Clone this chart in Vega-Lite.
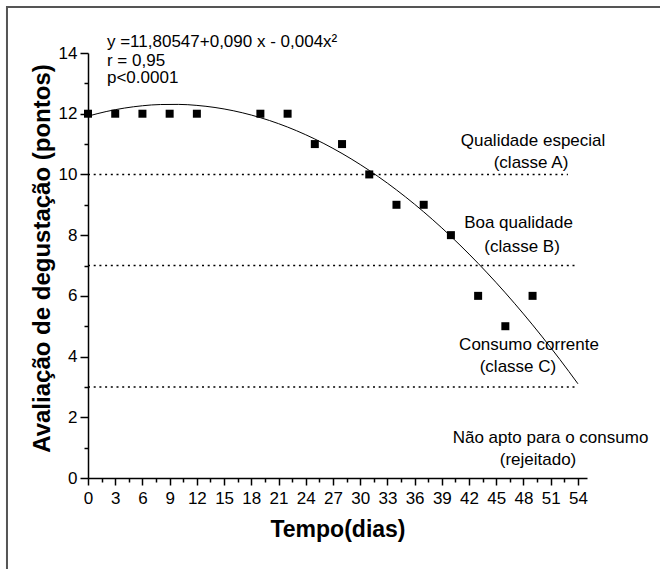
{
  "$schema": "https://vega.github.io/schema/vega-lite/v6.json",
  "width": 499,
  "height": 425,
  "autosize": {"type": "none"},
  "padding": {"left": 88, "top": 53, "right": 73, "bottom": 91},
  "background": "white",
  "config": {"view": {"stroke": null}, "font": "Liberation Sans", "axis": {"grid": false}},
  "datasets": {
    "frame": [{"x0": -8.93, "x1": 80, "y0": 15.515, "y1": -10}],
    "points": [
      {"dias": 0, "pontos": 12}, {"dias": 3, "pontos": 12}, {"dias": 6, "pontos": 12},
      {"dias": 9, "pontos": 12}, {"dias": 12, "pontos": 12}, {"dias": 19, "pontos": 12},
      {"dias": 22, "pontos": 12}, {"dias": 25, "pontos": 11}, {"dias": 28, "pontos": 11},
      {"dias": 31, "pontos": 10}, {"dias": 34, "pontos": 9}, {"dias": 37, "pontos": 9},
      {"dias": 40, "pontos": 8}, {"dias": 43, "pontos": 6}, {"dias": 46, "pontos": 5},
      {"dias": 49, "pontos": 6}
    ],
    "curve": [
      {"dias": 0, "pontos": 11.92}, {"dias": 2, "pontos": 12.071}, {"dias": 4, "pontos": 12.185},
      {"dias": 6, "pontos": 12.262}, {"dias": 8, "pontos": 12.303}, {"dias": 10, "pontos": 12.307},
      {"dias": 12, "pontos": 12.274}, {"dias": 14, "pontos": 12.205}, {"dias": 16, "pontos": 12.099},
      {"dias": 18, "pontos": 11.956}, {"dias": 20, "pontos": 11.776}, {"dias": 22, "pontos": 11.56},
      {"dias": 24, "pontos": 11.307}, {"dias": 26, "pontos": 11.017}, {"dias": 28, "pontos": 10.69},
      {"dias": 30, "pontos": 10.327}, {"dias": 32, "pontos": 9.927}, {"dias": 34, "pontos": 9.49},
      {"dias": 36, "pontos": 9.017}, {"dias": 38, "pontos": 8.507}, {"dias": 40, "pontos": 7.96},
      {"dias": 42, "pontos": 7.376}, {"dias": 44, "pontos": 6.756}, {"dias": 46, "pontos": 6.099},
      {"dias": 48, "pontos": 5.405}, {"dias": 50, "pontos": 4.675}, {"dias": 52, "pontos": 3.908},
      {"dias": 54, "pontos": 3.104}
    ],
    "limits": [
      {"nivel": 10, "inicio": 0, "fim": 52.9},
      {"nivel": 7, "inicio": 0, "fim": 53.9},
      {"nivel": 3, "inicio": 0, "fim": 54.0}
    ],
    "stats": [
      {"x": 2.09, "y": 14.21, "texto": "y =11,80547+0,090 x - 0,004x²"},
      {"x": 2.09, "y": 13.58, "texto": "r = 0,95"},
      {"x": 2.09, "y": 13.01, "texto": "p<0.0001"}
    ],
    "classes": [
      {"x": 49.05, "y": 10.94, "texto": "Qualidade especial"},
      {"x": 48.83, "y": 10.21, "texto": "(classe A)"},
      {"x": 47.45, "y": 8.24, "texto": "Boa qualidade"},
      {"x": 47.84, "y": 7.44, "texto": "(classe B)"},
      {"x": 48.61, "y": 4.22, "texto": "Consumo corrente"},
      {"x": 47.39, "y": 3.49, "texto": "(classe C)"},
      {"x": 50.98, "y": 1.15, "texto": "Não apto para o consumo"},
      {"x": 49.6, "y": 0.43, "texto": "(rejeitado)"}
    ]
  },
  "resolve": {"axis": {"x": "independent", "y": "independent"}},
  "layer": [
    {
      "data": {"name": "frame"},
      "mark": {"type": "rect", "filled": false, "stroke": "#555555", "strokeWidth": 2},
      "encoding": {
        "x": {"field": "x0", "type": "quantitative", "scale": {"domain": [0, 55], "nice": false, "zero": false}, "axis": null},
        "x2": {"field": "x1"},
        "y": {"field": "y0", "type": "quantitative", "scale": {"domain": [0, 14], "nice": false}, "axis": null},
        "y2": {"field": "y1"}
      }
    },
    {
      "data": {"name": "limits"},
      "mark": {"type": "rule", "color": "black", "strokeWidth": 1.6, "strokeDash": [2, 3.7]},
      "encoding": {
        "x": {"field": "inicio", "type": "quantitative", "axis": null},
        "x2": {"field": "fim"},
        "y": {"field": "nivel", "type": "quantitative", "axis": null}
      }
    },
    {
      "data": {"name": "curve"},
      "mark": {"type": "line", "color": "black", "strokeWidth": 1, "interpolate": "monotone"},
      "encoding": {
        "x": {"field": "dias", "type": "quantitative",
          "axis": {"orient": "bottom", "values": [1.5, 4.5, 7.5, 10.5, 13.5, 16.5, 19.5, 22.5, 25.5, 28.5, 31.5, 34.5, 37.5, 40.5, 43.5, 46.5, 49.5, 52.5],
            "labels": false, "domain": false, "title": null, "tickSize": 4, "tickColor": "black", "tickWidth": 1.5, "grid": false}},
        "y": {"field": "pontos", "type": "quantitative",
          "axis": {"orient": "left", "values": [1, 3, 5, 7, 9, 11, 13],
            "labels": false, "domain": false, "title": null, "tickSize": 4, "tickColor": "black", "tickWidth": 1.5, "grid": false}}
      }
    },
    {
      "data": {"name": "points"},
      "mark": {"type": "point", "shape": "square", "filled": true, "color": "black", "size": 64, "opacity": 1},
      "encoding": {
        "x": {"field": "dias", "type": "quantitative",
          "axis": {"orient": "bottom", "values": [0, 3, 6, 9, 12, 15, 18, 21, 24, 27, 30, 33, 36, 39, 42, 45, 48, 51, 54],
            "format": "d", "title": "Tempo(dias)", "titleFont": "Liberation Sans", "titleFontSize": 23, "titleFontWeight": "bold",
            "titleColor": "black", "titlePadding": 12, "labelFont": "Liberation Sans", "labelFontSize": 17, "labelColor": "black",
            "labelFlush": false, "labelOverlap": false, "labelPadding": 5, "tickSize": 7, "tickColor": "black", "tickWidth": 1.5,
            "domainColor": "black", "domainWidth": 1.5, "grid": false}},
        "y": {"field": "pontos", "type": "quantitative",
          "axis": {"orient": "left", "values": [0, 2, 4, 6, 8, 10, 12, 14],
            "format": "d", "title": "Avaliação de degustação (pontos)", "titleFont": "Liberation Sans", "titleFontSize": 24,
            "titleFontWeight": "bold", "titleColor": "black", "titlePadding": 4, "titleY": 205, "labelFont": "Liberation Sans", "labelFontSize": 17,
            "labelColor": "black", "labelFlush": false, "labelOverlap": false, "labelPadding": 3, "tickSize": 8, "tickColor": "black",
            "tickWidth": 1.5, "domainColor": "black", "domainWidth": 1.5, "grid": false}}
      }
    },
    {
      "data": {"name": "stats"},
      "mark": {"type": "text", "align": "left", "baseline": "alphabetic", "font": "Liberation Sans", "fontSize": 17, "color": "black"},
      "encoding": {
        "x": {"field": "x", "type": "quantitative", "axis": null},
        "y": {"field": "y", "type": "quantitative", "axis": null},
        "text": {"field": "texto"}
      }
    },
    {
      "data": {"name": "classes"},
      "mark": {"type": "text", "align": "center", "baseline": "alphabetic", "font": "Liberation Sans", "fontSize": 17, "color": "black"},
      "encoding": {
        "x": {"field": "x", "type": "quantitative", "axis": null},
        "y": {"field": "y", "type": "quantitative", "axis": null},
        "text": {"field": "texto"}
      }
    }
  ]
}
